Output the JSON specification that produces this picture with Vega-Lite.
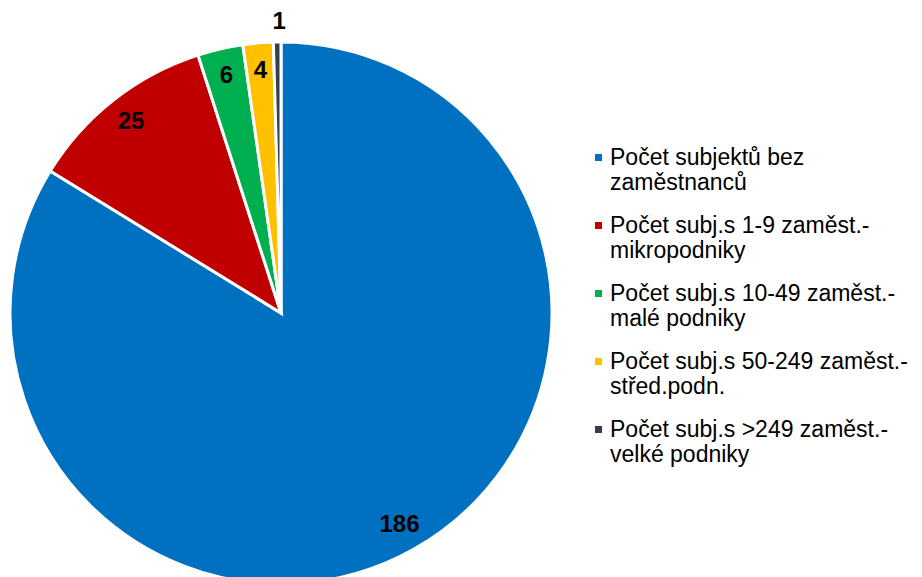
{
  "$schema": "https://vega.github.io/schema/vega-lite/v6.json",
  "width": 562,
  "height": 626,
  "padding": 0,
  "background": "white",
  "config": {"view": {"stroke": null}, "font": "Liberation Sans"},
  "data": {
    "values": [
      {"kategorie": "Počet subjektů bez\nzaměstnanců", "pocet": 186},
      {"kategorie": "Počet subj.s 1-9 zaměst.-\nmikropodniky", "pocet": 25},
      {"kategorie": "Počet subj.s 10-49 zaměst.-\nmalé podniky", "pocet": 6},
      {"kategorie": "Počet subj.s 50-249 zaměst.-\nstřed.podn.", "pocet": 4},
      {"kategorie": "Počet subj.s >249 zaměst.-\nvelké podniky", "pocet": 1}
    ]
  },
  "encoding": {
    "theta": {"field": "pocet", "type": "quantitative", "stack": true},
    "order": {"field": "pocet", "type": "quantitative", "sort": "descending"}
  },
  "layer": [
    {
      "mark": {"type": "arc", "outerRadius": 271, "stroke": "white", "strokeWidth": 3},
      "encoding": {
        "color": {
          "field": "kategorie",
          "type": "nominal",
          "scale": {
            "domain": [
              "Počet subjektů bez\nzaměstnanců",
              "Počet subj.s 1-9 zaměst.-\nmikropodniky",
              "Počet subj.s 10-49 zaměst.-\nmalé podniky",
              "Počet subj.s 50-249 zaměst.-\nstřed.podn.",
              "Počet subj.s >249 zaměst.-\nvelké podniky"
            ],
            "range": ["#0070C0", "#C00000", "#00B050", "#FFC000", "#333F50"]
          },
          "legend": {
            "title": null,
            "orient": "none",
            "legendX": 587,
            "legendY": 146,
            "symbolType": "square",
            "symbolSize": 49,
            "symbolStrokeWidth": 0,
            "labelFont": "Liberation Sans",
            "labelFontSize": 23,
            "labelColor": "#000000",
            "labelLimit": 400,
            "labelOffset": 0,
            "rowPadding": 19,
            "labelExpr": "split(datum.label, '\\n')"
          }
        }
      }
    },
    {
      "transform": [{"filter": "datum.pocet > 1"}],
      "mark": {"type": "text", "radius": 243, "font": "Liberation Sans", "fontSize": 24, "fontWeight": "bold", "color": "#000000"},
      "encoding": {"text": {"field": "pocet", "type": "quantitative"}}
    },
    {
      "transform": [{"filter": "datum.pocet <= 1"}],
      "mark": {"type": "text", "radius": 291, "dx": -6, "font": "Liberation Sans", "fontSize": 24, "fontWeight": "bold", "color": "#000000"},
      "encoding": {"text": {"field": "pocet", "type": "quantitative"}}
    }
  ]
}
